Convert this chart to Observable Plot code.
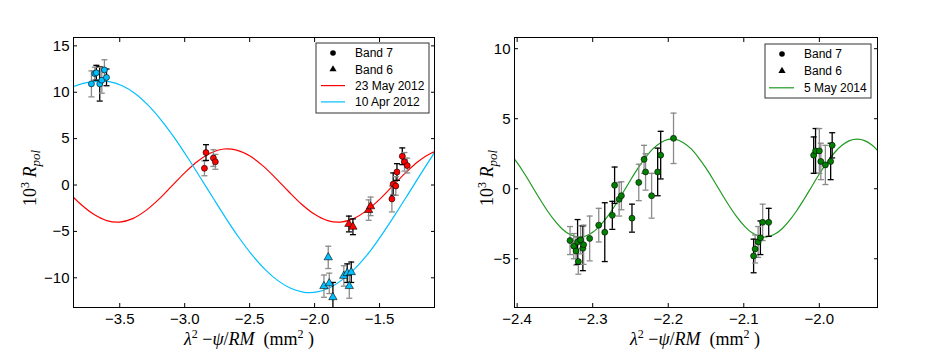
<!DOCTYPE html>
<html><head><meta charset="utf-8">
<script src="https://cdn.jsdelivr.net/npm/d3@7"></script>
<script src="https://cdn.jsdelivr.net/npm/@observablehq/plot@0.6"></script>
<style>
body{margin:0;background:#fff;}
#wrap{position:relative;width:926px;height:364px;overflow:hidden;background:#fff;}
#wrap svg{position:absolute;top:0;overflow:visible;}
</style></head><body><div id="wrap"></div>
<script>
// ---------- LEFT PANEL DATA ----------
// 10 Apr 2012, Band 7 (circles)
const apr12_b7_x   = [-3.718, -3.692, -3.680, -3.654, -3.638, -3.618, -3.602];
const apr12_b7_y   = [10.9, 12.0, 12.1, 10.9, 11.3, 12.4, 11.6];
const apr12_b7_err = [1.4, 0.7, 0.8, 1.85, 1.4, 1.1, 0.9];
const apr12_b7_grp = ["A", "A", "B", "B", "A", "A", "B"];
// 10 Apr 2012, Band 6 (triangles)
const apr12_b6_x   = [-1.928, -1.895, -1.887, -1.859, -1.775, -1.749, -1.733, -1.718];
const apr12_b6_y   = [-10.9, -7.8, -10.6, -12.1, -9.8, -9.5, -10.9, -9.4];
const apr12_b6_err = [1.2, 1.2, 1.1, 1.6, 1.1, 1.0, 1.3, 1.1];
const apr12_b6_grp = ["A", "A", "A", "B", "A", "B", "A", "B"];
// 23 May 2012, Band 7 (circles)
const may12_b7_x   = [-2.848, -2.836, -2.779, -2.764, -1.405, -1.395, -1.375, -1.366, -1.325, -1.308, -1.287];
const may12_b7_y   = [1.8, 3.5, 2.9, 2.5, -1.5, 0.1, -0.1, 1.4, 3.1, 2.5, 2.1];
const may12_b7_err = [0.8, 0.85, 0.9, 0.8, 1.4, 1.2, 1.0, 0.9, 0.9, 1.0, 0.8];
const may12_b7_grp = ["A", "B", "A", "A", "A", "B", "A", "B", "B", "A", "A"];
// 23 May 2012, Band 6 (triangles)
const may12_b6_x   = [-1.736, -1.705, -1.584, -1.569];
const may12_b6_y   = [-4.2, -4.5, -2.7, -2.3];
const may12_b6_err = [0.85, 0.85, 1.1, 1.0];
const may12_b6_grp = ["B", "B", "A", "A"];
// model curves
const may12_fit_x = [-3.9,-3.8,-3.7,-3.6,-3.5,-3.4,-3.3,-3.2,-3.1,-3.0,-2.9,-2.8,-2.7,-2.6,-2.5,-2.4,-2.3,-2.2,-2.1,-2.0,-1.9,-1.8,-1.7,-1.6,-1.5,-1.4,-1.3,-1.2,-1.1,-1.0];
const may12_fit_y = [-0.70,-2.07,-3.16,-3.83,-3.99,-3.62,-2.76,-1.55,-0.12,1.31,2.56,3.45,3.88,3.77,3.15,2.09,0.75,-0.70,-2.07,-3.16,-3.83,-3.99,-3.62,-2.76,-1.55,-0.12,1.31,2.56,3.45,3.88];
const apr12_fit_x = [-3.88,-3.78,-3.68,-3.63,-3.58,-3.48,-3.38,-3.28,-3.18,-3.08,-2.98,-2.88,-2.78,-2.68,-2.58,-2.48,-2.38,-2.28,-2.18,-2.08,-2.04,-1.98,-1.88,-1.78,-1.68,-1.58,-1.48,-1.38,-1.28,-1.18,-1.08,-1.06];
const apr12_fit_y = [10.5,10.95,11.15,11.2,11.14,10.70,9.84,8.58,6.98,5.11,3.02,0.81,-1.43,-3.64,-5.71,-7.56,-9.12,-10.33,-11.16,-11.57,-11.6,-11.52,-11.04,-10.14,-8.87,-7.26,-5.31,-3.19,-0.98,1.26,3.43,3.86];

// ---------- RIGHT PANEL DATA ----------
const may14_x = [-2.330,-2.325,-2.322,-2.320,-2.319,-2.316,-2.313,-2.312,-2.304,-2.292,-2.284,-2.274,-2.271,-2.265,-2.262,-2.248,-2.239,-2.232,-2.230,-2.222,-2.214,-2.210,-2.193,-2.087,-2.085,-2.081,-2.078,-2.075,-2.067,-2.0075,-2.005,-2.000,-1.998,-1.992,-1.985,-1.983];
const may14_y = [-3.7,-4.1,-4.45,-3.8,-5.2,-3.65,-4.25,-4.0,-3.55,-2.6,-3.1,-1.9,0.25,-0.75,-0.5,-2.1,0.45,2.1,1.2,-0.5,1.2,2.4,3.6,-4.8,-4.3,-3.8,-3.5,-2.4,-2.4,2.4,2.7,2.7,1.95,1.7,1.95,3.1];
const may14_err = [1.0,0.9,1.0,1.6,0.9,1.0,1.6,1.4,1.6,1.2,2.1,1.0,1.3,1.2,1.0,1.0,1.3,1.0,1.3,1.6,1.7,1.7,1.8,1.2,1.0,1.1,1.2,1.3,1.0,1.3,1.6,1.6,1.3,1.4,1.3,0.9];
const may14_grp = ["A","A","A","B","A","A","B","A","A","A","B","B","B","A","A","B","A","A","A","A","B","B","A","B","A","A","B","A","B","B","B","A","A","A","B","B"];
const may14_fit_x = [-2.41,-2.40,-2.39,-2.38,-2.37,-2.36,-2.35,-2.34,-2.33,-2.32,-2.31,-2.30,-2.29,-2.28,-2.27,-2.26,-2.25,-2.24,-2.23,-2.22,-2.21,-2.20,-2.19,-2.18,-2.17,-2.16,-2.15,-2.14,-2.13,-2.12,-2.11,-2.10,-2.09,-2.08,-2.07,-2.06,-2.05,-2.04,-2.03,-2.02,-2.01,-2.00,-1.99,-1.98,-1.97,-1.96,-1.95,-1.94,-1.93,-1.92];
const may14_fit_y = [2.57,1.86,1.05,0.16,-0.73,-1.57,-2.30,-2.89,-3.27,-3.44,-3.39,-3.11,-2.61,-1.95,-1.16,-0.29,0.61,1.47,2.23,2.86,3.29,3.52,3.52,3.29,2.86,2.23,1.47,0.61,-0.29,-1.16,-1.95,-2.61,-3.11,-3.39,-3.44,-3.27,-2.89,-2.30,-1.57,-0.73,0.16,1.05,1.86,2.57,3.10,3.44,3.55,3.44,3.10,2.57];

// ---------- TICKS & LABELS ----------
const leftXTicks = [-3.5, -3.0, -2.5, -2.0, -1.5];
const leftYTicks = [-10, -5, 0, 5, 10, 15];
const rightXTicks = [-2.4, -2.3, -2.2, -2.1, -2.0];
const rightYTicks = [-5, 0, 5, 10];
const leftLegendLabels = ["Band 7", "Band 6", "23 May 2012", "10 Apr 2012"];
const rightLegendLabels = ["Band 7", "Band 6", "5 May 2014"];

// ---------- helpers ----------
const RED = "#ff0000", BLUE = "#00bfff", GREEN = "#008000", GREENLINE = "#1f9a1f";
const ecol = g => g === "B" ? "#000000" : "#8a8a8a";
const pts = (xs, ys, es, gs) => xs.map((x, i) => ({x, y: ys[i], e: es[i], g: gs[i]}));
const curve = (xs, ys) => xs.map((x, i) => ({x, y: ys[i]}));
const capSymbol = {draw(ctx, size) { const r = Math.sqrt(size / Math.PI); ctx.moveTo(-r, 0); ctx.lineTo(r, 0); }};

function errorbars(data) {
  return [
    Plot.ruleX(data, {x: "x", y1: d => d.y - d.e, y2: d => d.y + d.e, stroke: d => ecol(d.g), strokeWidth: 1.3, clip: true}),
    Plot.dot(data, {x: "x", y: d => d.y + d.e, symbol: capSymbol, r: 3, fill: "none", stroke: d => ecol(d.g), strokeWidth: 1.3, clip: true}),
    Plot.dot(data, {x: "x", y: d => d.y - d.e, symbol: capSymbol, r: 3, fill: "none", stroke: d => ecol(d.g), strokeWidth: 1.3, clip: true})
  ];
}
function markers(data, color, sym) {
  return Plot.dot(data, {x: "x", y: "y", symbol: sym, r: sym === "triangle" ? 3.1 : 3, fill: color, stroke: "#000", strokeWidth: 0.6, clip: true});
}
function frameAxes(xt, yt, fx, fy) {
  return [
    Plot.axisX({ticks: xt, anchor: "bottom", tickSize: 0, tickPadding: 6, tickFormat: fx, label: null}),
    Plot.axisY({ticks: yt, anchor: "left", tickSize: 0, tickPadding: 4, tickFormat: fy, label: null}),
    Plot.axisX({ticks: xt, anchor: "bottom", tickSize: 4, dy: -4, tickFormat: () => "", label: null}),
    Plot.axisX({ticks: xt, anchor: "top", tickSize: 4, dy: 4, tickFormat: () => "", label: null}),
    Plot.axisY({ticks: yt, anchor: "left", tickSize: 4, dx: 4, tickFormat: () => "", label: null}),
    Plot.axisY({ticks: yt, anchor: "right", tickSize: 4, dx: -4, tickFormat: () => "", label: null}),
    Plot.frame({stroke: "#000", strokeWidth: 1})
  ];
}
const baseStyle = {fontFamily: "'Liberation Sans', Arial, sans-serif", fontSize: "15px", color: "#000", background: "transparent"};

function ylabel(svg, cx, cy) {
  const t = d3.select(svg).append("text")
    .attr("transform", `translate(${cx},${cy}) rotate(-90)`)
    .attr("text-anchor", "middle").attr("font-family", "'Liberation Serif', 'DejaVu Serif', serif")
    .attr("font-size", 18).attr("fill", "#000");
  t.append("tspan").text("10");
  t.append("tspan").attr("dy", -7).attr("font-size", 12).text("3");
  t.append("tspan").attr("dy", 7).text("\u00a0");
  t.append("tspan").attr("font-style", "italic").text("R");
  t.append("tspan").attr("dy", 4).attr("font-size", 13).attr("font-style", "italic").text("pol");
}
function xlabel(svg, cx, y) {
  const t = d3.select(svg).append("text")
    .attr("x", cx).attr("y", y).attr("text-anchor", "middle")
    .attr("font-family", "'Liberation Serif', 'DejaVu Serif', serif").attr("font-size", 18).attr("fill", "#000")
    .style("white-space", "pre");
  t.append("tspan").attr("font-style", "italic").text("λ");
  t.append("tspan").attr("dy", -7).attr("font-size", 12).text("2");
  t.append("tspan").attr("dy", 7).text(" −");
  t.append("tspan").attr("font-style", "italic").text("ψ");
  t.append("tspan").text("/");
  t.append("tspan").attr("font-style", "italic").text("RM");
  t.append("tspan").text("\u00a0\u00a0(mm");
  t.append("tspan").attr("dy", -7).attr("font-size", 12).text("2");
  t.append("tspan").attr("dy", 7).text("\u00a0)");
}
function legend(svg, x0, y0, w, h, step, mx, lx1, lx2, tx, entries) {
  const g = d3.select(svg).append("g").attr("font-family", "'Liberation Sans', Arial, sans-serif").attr("font-size", 12).attr("text-anchor", "start");
  g.append("rect").attr("x", x0).attr("y", y0).attr("width", w).attr("height", h)
    .attr("fill", "#fff").attr("stroke", "#333").attr("stroke-width", 1);
  entries.forEach((e, i) => {
    const cy = y0 + 10 + i * step;
    if (e.kind === "circle") g.append("circle").attr("cx", mx).attr("cy", cy).attr("r", 2.8).attr("fill", "#000");
    else if (e.kind === "triangle") g.append("path").attr("d", d3.symbol(d3.symbolTriangle, 22)()).attr("transform", `translate(${mx},${cy})`).attr("fill", "#000");
    else g.append("line").attr("x1", lx1).attr("x2", lx2).attr("y1", cy).attr("y2", cy).attr("stroke", e.color).attr("stroke-width", 1.2);
    g.append("text").attr("x", tx).attr("y", cy).attr("dy", "0.35em").attr("text-anchor", "start").attr("fill", "#000").text(e.label);
  });
}

// ---------- LEFT PLOT ----------
const left = Plot.plot({
  width: 463, height: 364,
  marginLeft: 73, marginRight: 29, marginTop: 37, marginBottom: 57,
  x: {domain: [-3.856, -1.077]},
  y: {domain: [-13.2, 15.9]},
  style: baseStyle,
  marks: [
    Plot.line(curve(may12_fit_x, may12_fit_y), {x: "x", y: "y", stroke: RED, strokeWidth: 1.2, curve: "catmull-rom", clip: true}),
    Plot.line(curve(apr12_fit_x, apr12_fit_y), {x: "x", y: "y", stroke: BLUE, strokeWidth: 1.2, curve: "catmull-rom", clip: true}),
    ...errorbars(pts(apr12_b7_x, apr12_b7_y, apr12_b7_err, apr12_b7_grp)),
    ...errorbars(pts(apr12_b6_x, apr12_b6_y, apr12_b6_err, apr12_b6_grp)),
    ...errorbars(pts(may12_b7_x, may12_b7_y, may12_b7_err, may12_b7_grp)),
    ...errorbars(pts(may12_b6_x, may12_b6_y, may12_b6_err, may12_b6_grp)),
    markers(pts(apr12_b7_x, apr12_b7_y, apr12_b7_err, apr12_b7_grp), BLUE, "circle"),
    markers(pts(apr12_b6_x, apr12_b6_y, apr12_b6_err, apr12_b6_grp), BLUE, "triangle"),
    markers(pts(may12_b7_x, may12_b7_y, may12_b7_err, may12_b7_grp), RED, "circle"),
    markers(pts(may12_b6_x, may12_b6_y, may12_b6_err, may12_b6_grp), RED, "triangle"),
    ...frameAxes(leftXTicks, leftYTicks, d3.format(".1f"), d3.format("d"))
  ]
});
left.style.left = "0px";

// ---------- RIGHT PLOT ----------
const right = Plot.plot({
  width: 463, height: 364,
  marginLeft: 51, marginRight: 49, marginTop: 37, marginBottom: 57,
  x: {domain: [-2.4035, -1.923]},
  y: {domain: [-8.48, 10.8]},
  style: baseStyle,
  marks: [
    Plot.line(curve(may14_fit_x, may14_fit_y), {x: "x", y: "y", stroke: GREENLINE, strokeWidth: 1.2, curve: "catmull-rom", clip: true}),
    ...errorbars(pts(may14_x, may14_y, may14_err, may14_grp)),
    markers(pts(may14_x, may14_y, may14_err, may14_grp), GREEN, "circle"),
    ...frameAxes(rightXTicks, rightYTicks, d3.format(".1f"), d3.format("d"))
  ]
});
right.style.left = "463px";

const wrap = document.getElementById("wrap");
wrap.appendChild(left);
wrap.appendChild(right);

ylabel(left, 36, 178);
xlabel(left, 249, 345);
legend(left, 316, 43, 113, 70, 16.3, 333, 321, 345, 355, [
  {kind: "circle", label: leftLegendLabels[0]},
  {kind: "triangle", label: leftLegendLabels[1]},
  {kind: "line", color: RED, label: leftLegendLabels[2]},
  {kind: "line", color: BLUE, label: leftLegendLabels[3]}
]);
ylabel(right, 30, 178);
xlabel(right, 232, 345);
legend(right, 302, 44, 106, 54, 16.9, 319, 306, 331, 341, [
  {kind: "circle", label: rightLegendLabels[0]},
  {kind: "triangle", label: rightLegendLabels[1]},
  {kind: "line", color: GREENLINE, label: rightLegendLabels[2]}
]);
</script></body></html>
